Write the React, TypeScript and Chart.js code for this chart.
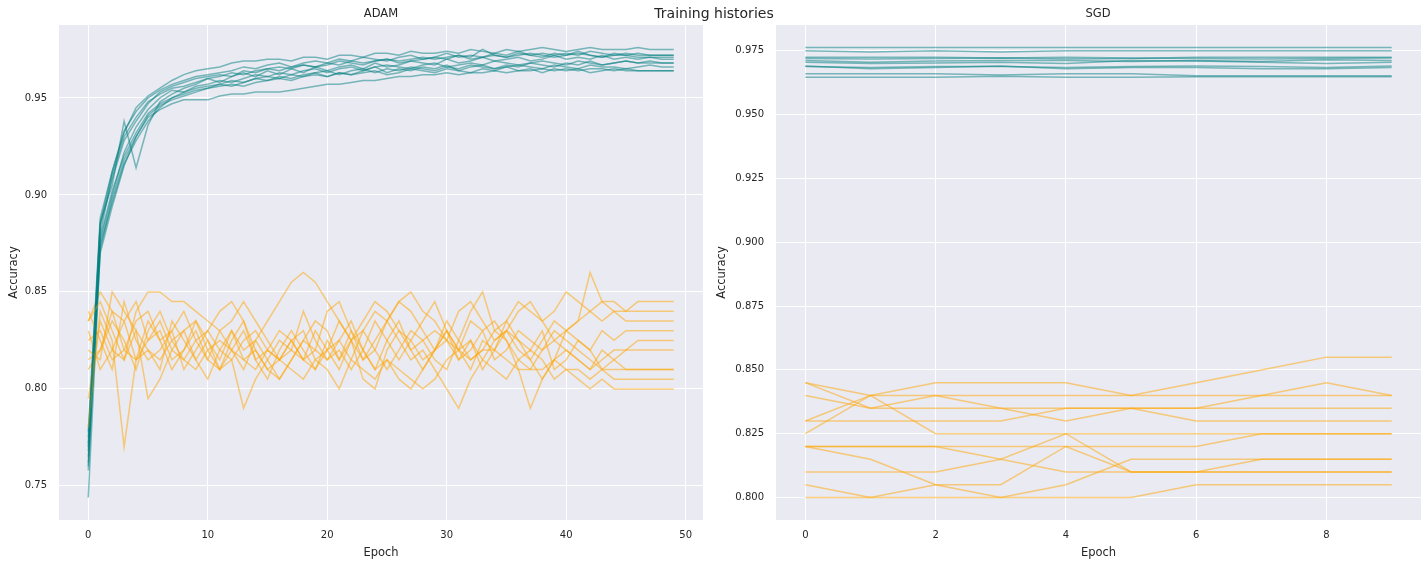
import React, { useEffect, useRef } from "react";
import { Chart, registerables } from "chart.js";
Chart.register(...registerables);

// ---------------- DATA ----------------
const ADAM_EPOCHS = Array.from({ length: 50 }, (_, i) => i);
const SGD_EPOCHS = Array.from({ length: 10 }, (_, i) => i);

const ADAM_X_TICKS = [0, 10, 20, 30, 40, 50];
const ADAM_Y_TICKS = [0.75, 0.8, 0.85, 0.9, 0.95];
const SGD_X_TICKS = [0, 2, 4, 6, 8];
const SGD_Y_TICKS = [0.8, 0.825, 0.85, 0.875, 0.9, 0.925, 0.95, 0.975];

// ADAM training accuracy (teal), 10 runs x 50 epochs
const adamTrain1 = [
  0.770, 0.885, 0.912, 0.932, 0.945, 0.951, 0.955, 0.959, 0.962, 0.964,
  0.965, 0.966, 0.968, 0.969, 0.969, 0.970, 0.970, 0.969, 0.971, 0.971,
  0.970, 0.972, 0.972, 0.971, 0.973, 0.973, 0.972, 0.974, 0.973, 0.973,
  0.974, 0.973, 0.975, 0.974, 0.973, 0.975, 0.974, 0.975, 0.976, 0.975,
  0.974, 0.975, 0.976, 0.975, 0.975, 0.975, 0.976, 0.975, 0.975, 0.975,
];
const adamTrain2 = [
  0.744, 0.872, 0.898, 0.918, 0.930, 0.940, 0.944, 0.947, 0.949, 0.949,
  0.949, 0.951, 0.952, 0.952, 0.953, 0.953, 0.953, 0.954, 0.955, 0.956,
  0.957, 0.957, 0.958, 0.959, 0.959, 0.960, 0.961, 0.961, 0.962, 0.962,
  0.963, 0.962, 0.963, 0.963, 0.964, 0.963, 0.964, 0.964, 0.965, 0.964,
  0.965, 0.964, 0.965, 0.965, 0.964, 0.965, 0.964, 0.964, 0.964, 0.964,
];
const adamTrain3 = [
  0.775, 0.886, 0.905, 0.938, 0.914, 0.936, 0.948, 0.952, 0.955, 0.957,
  0.960, 0.958, 0.961, 0.963, 0.961, 0.964, 0.962, 0.965, 0.963, 0.966,
  0.964, 0.966, 0.967, 0.965, 0.968, 0.966, 0.967, 0.969, 0.968, 0.967,
  0.970, 0.968, 0.969, 0.971, 0.969, 0.970, 0.971, 0.969, 0.970, 0.972,
  0.970, 0.971, 0.970, 0.972, 0.970, 0.971, 0.970, 0.971, 0.970, 0.970,
];
const adamTrain4 = [
  0.760, 0.880, 0.910, 0.930, 0.940, 0.948, 0.952, 0.955, 0.956, 0.958,
  0.960, 0.961, 0.963, 0.962, 0.964, 0.965, 0.964, 0.966, 0.967, 0.966,
  0.968, 0.967, 0.969, 0.968, 0.969, 0.970, 0.969, 0.970, 0.971, 0.970,
  0.971, 0.972, 0.970, 0.971, 0.972, 0.971, 0.972, 0.973, 0.972, 0.971,
  0.972, 0.973, 0.972, 0.971, 0.972, 0.972, 0.973, 0.972, 0.972, 0.972,
];
const adamTrain5 = [
  0.768, 0.876, 0.900, 0.922, 0.935, 0.944, 0.950, 0.954, 0.953, 0.956,
  0.957, 0.959, 0.958, 0.960, 0.962, 0.961, 0.963, 0.962, 0.964, 0.965,
  0.963, 0.965, 0.966, 0.964, 0.966, 0.967, 0.966, 0.965, 0.967, 0.968,
  0.966, 0.967, 0.968, 0.967, 0.969, 0.968, 0.967, 0.968, 0.969, 0.968,
  0.967, 0.969, 0.968, 0.967, 0.968, 0.969, 0.968, 0.968, 0.968, 0.968,
];
const adamTrain6 = [
  0.762, 0.878, 0.902, 0.920, 0.932, 0.942, 0.947, 0.950, 0.953, 0.955,
  0.956, 0.957, 0.959, 0.958, 0.960, 0.961, 0.960, 0.962, 0.961, 0.963,
  0.964, 0.962, 0.964, 0.965, 0.963, 0.965, 0.964, 0.966, 0.965, 0.964,
  0.966, 0.965, 0.967, 0.966, 0.965, 0.966, 0.967, 0.966, 0.965, 0.967,
  0.966, 0.965, 0.967, 0.966, 0.966, 0.965, 0.966, 0.967, 0.966, 0.966,
];
const adamTrain7 = [
  0.772, 0.884, 0.908, 0.928, 0.938, 0.947, 0.953, 0.956, 0.958, 0.960,
  0.961, 0.962, 0.961, 0.964, 0.963, 0.965, 0.966, 0.965, 0.967, 0.966,
  0.967, 0.969, 0.968, 0.967, 0.969, 0.970, 0.968, 0.969, 0.970, 0.971,
  0.970, 0.972, 0.971, 0.975, 0.972, 0.971, 0.973, 0.972, 0.971, 0.973,
  0.972, 0.974, 0.972, 0.971, 0.973, 0.972, 0.971, 0.971, 0.971, 0.971,
];
const adamTrain8 = [
  0.758, 0.874, 0.896, 0.916, 0.928, 0.938, 0.945, 0.950, 0.952, 0.954,
  0.955, 0.957, 0.956, 0.958, 0.960, 0.959, 0.961, 0.960, 0.962, 0.963,
  0.961, 0.963, 0.962, 0.964, 0.966, 0.963, 0.965, 0.964, 0.966, 0.965,
  0.967, 0.964, 0.966, 0.967, 0.965, 0.967, 0.966, 0.968, 0.967, 0.966,
  0.968, 0.967, 0.969, 0.967, 0.968, 0.969, 0.968, 0.969, 0.968, 0.968,
];
const adamTrain9 = [
  0.778, 0.888, 0.912, 0.933, 0.943, 0.950, 0.954, 0.957, 0.959, 0.961,
  0.962, 0.963, 0.964, 0.966, 0.965, 0.967, 0.968, 0.966, 0.968, 0.969,
  0.968, 0.970, 0.969, 0.971, 0.970, 0.969, 0.971, 0.972, 0.970, 0.971,
  0.973, 0.971, 0.972, 0.971, 0.973, 0.972, 0.974, 0.972, 0.973, 0.972,
  0.973, 0.972, 0.974, 0.973, 0.972, 0.973, 0.972, 0.972, 0.972, 0.972,
];
const adamTrain10 = [
  0.765, 0.870, 0.894, 0.915, 0.930, 0.941, 0.946, 0.949, 0.951, 0.953,
  0.955, 0.956, 0.957, 0.956, 0.958, 0.959, 0.960, 0.959, 0.961, 0.962,
  0.961, 0.963, 0.962, 0.963, 0.964, 0.962, 0.963, 0.965, 0.964, 0.963,
  0.965, 0.964, 0.963, 0.965, 0.964, 0.966, 0.964, 0.965, 0.963, 0.965,
  0.964, 0.965, 0.963, 0.964, 0.965, 0.964, 0.964, 0.964, 0.964, 0.964,
];

// ADAM validation accuracy (orange), 10 runs x 50 epochs
const adamVal1 = [
  0.835, 0.845, 0.830, 0.815, 0.840, 0.850, 0.850, 0.845, 0.845, 0.840,
  0.835, 0.830, 0.820, 0.810, 0.825, 0.835, 0.845, 0.855, 0.860, 0.855,
  0.845, 0.835, 0.825, 0.815, 0.820, 0.835, 0.845, 0.840, 0.830, 0.820,
  0.825, 0.840, 0.845, 0.835, 0.825, 0.830, 0.840, 0.845, 0.835, 0.825,
  0.830, 0.835, 0.840, 0.845, 0.845, 0.840, 0.845, 0.845, 0.845, 0.845,
];
const adamVal2 = [
  0.780, 0.840, 0.825, 0.770, 0.815, 0.825, 0.835, 0.820, 0.830, 0.815,
  0.825, 0.810, 0.820, 0.830, 0.815, 0.805, 0.820, 0.830, 0.820, 0.810,
  0.825, 0.815, 0.830, 0.820, 0.810, 0.825, 0.835, 0.820, 0.810, 0.820,
  0.830, 0.815, 0.825, 0.810, 0.820, 0.830, 0.825, 0.815, 0.825, 0.835,
  0.830, 0.825, 0.820, 0.830, 0.825, 0.830, 0.830, 0.830, 0.830, 0.830,
];
const adamVal3 = [
  0.795, 0.835, 0.820, 0.815, 0.830, 0.795, 0.805, 0.820, 0.815, 0.825,
  0.830, 0.820, 0.815, 0.790, 0.805, 0.815, 0.825, 0.820, 0.815, 0.830,
  0.820, 0.810, 0.825, 0.830, 0.840, 0.835, 0.825, 0.815, 0.820, 0.810,
  0.800, 0.790, 0.805, 0.815, 0.825, 0.830, 0.820, 0.815, 0.805, 0.815,
  0.820, 0.815, 0.810, 0.820, 0.815, 0.820, 0.825, 0.825, 0.825, 0.825,
];
const adamVal4 = [
  0.820, 0.815, 0.850, 0.840, 0.830, 0.820, 0.815, 0.825, 0.830, 0.835,
  0.825, 0.815, 0.830, 0.820, 0.825, 0.815, 0.805, 0.815, 0.825, 0.835,
  0.830, 0.815, 0.825, 0.835, 0.845, 0.840, 0.830, 0.820, 0.825, 0.815,
  0.810, 0.825, 0.840, 0.850, 0.830, 0.835, 0.845, 0.840, 0.835, 0.840,
  0.850, 0.845, 0.840, 0.835, 0.840, 0.840, 0.840, 0.840, 0.840, 0.840,
];
const adamVal5 = [
  0.840, 0.825, 0.810, 0.845, 0.825, 0.815, 0.820, 0.830, 0.810, 0.820,
  0.830, 0.840, 0.845, 0.835, 0.820, 0.810, 0.815, 0.825, 0.815, 0.820,
  0.840, 0.845, 0.830, 0.815, 0.825, 0.835, 0.845, 0.850, 0.840, 0.835,
  0.825, 0.815, 0.820, 0.830, 0.835, 0.825, 0.810, 0.790, 0.805, 0.815,
  0.830, 0.835, 0.860, 0.845, 0.840, 0.835, 0.835, 0.835, 0.835, 0.835,
];
const adamVal6 = [
  0.815, 0.820, 0.835, 0.825, 0.810, 0.830, 0.840, 0.825, 0.815, 0.810,
  0.820, 0.825, 0.820, 0.815, 0.810, 0.820, 0.815, 0.810, 0.805, 0.815,
  0.820, 0.825, 0.835, 0.820, 0.810, 0.815, 0.805, 0.800, 0.810, 0.820,
  0.830, 0.820, 0.815, 0.820, 0.830, 0.825, 0.815, 0.810, 0.820, 0.825,
  0.820, 0.815, 0.810, 0.815, 0.820, 0.820, 0.820, 0.820, 0.820, 0.820,
];
const adamVal7 = [
  0.830, 0.810, 0.820, 0.835, 0.845, 0.825, 0.830, 0.815, 0.820, 0.830,
  0.815, 0.810, 0.825, 0.835, 0.815, 0.820, 0.830, 0.825, 0.815, 0.810,
  0.820, 0.835, 0.825, 0.805, 0.800, 0.820, 0.830, 0.825, 0.815, 0.820,
  0.835, 0.825, 0.815, 0.820, 0.820, 0.815, 0.810, 0.810, 0.810, 0.815,
  0.810, 0.810, 0.805, 0.810, 0.810, 0.810, 0.810, 0.810, 0.810, 0.810,
];
const adamVal8 = [
  0.825, 0.830, 0.815, 0.820, 0.835, 0.840, 0.825, 0.810, 0.820, 0.835,
  0.820, 0.810, 0.815, 0.825, 0.830, 0.820, 0.815, 0.825, 0.830, 0.815,
  0.810, 0.800, 0.815, 0.830, 0.820, 0.810, 0.820, 0.830, 0.825, 0.830,
  0.825, 0.820, 0.835, 0.830, 0.815, 0.820, 0.830, 0.825, 0.820, 0.830,
  0.825, 0.820, 0.815, 0.810, 0.805, 0.805, 0.805, 0.805, 0.805, 0.805,
];
const adamVal9 = [
  0.810, 0.820, 0.840, 0.835, 0.815, 0.820, 0.810, 0.835, 0.825, 0.815,
  0.805, 0.820, 0.830, 0.815, 0.820, 0.810, 0.805, 0.815, 0.825, 0.820,
  0.815, 0.825, 0.815, 0.810, 0.805, 0.815, 0.810, 0.805, 0.800, 0.805,
  0.815, 0.820, 0.825, 0.815, 0.810, 0.805, 0.815, 0.820, 0.815, 0.805,
  0.810, 0.805, 0.800, 0.805, 0.800, 0.800, 0.800, 0.800, 0.800, 0.800,
];
const adamVal10 = [
  0.835, 0.850, 0.840, 0.820, 0.815, 0.835, 0.825, 0.830, 0.840, 0.825,
  0.815, 0.830, 0.835, 0.845, 0.835, 0.825, 0.815, 0.820, 0.840, 0.825,
  0.815, 0.820, 0.810, 0.820, 0.835, 0.825, 0.815, 0.825, 0.835, 0.845,
  0.830, 0.820, 0.810, 0.825, 0.820, 0.835, 0.825, 0.820, 0.830, 0.810,
  0.815, 0.825, 0.820, 0.810, 0.815, 0.810, 0.810, 0.810, 0.810, 0.810,
];

// SGD training accuracy (teal), 10 runs x 10 epochs
const sgdTrain1 = [0.9763, 0.9763, 0.9763, 0.9763, 0.9763, 0.9763, 0.9763, 0.9763, 0.9763, 0.9763];
const sgdTrain2 = [0.9750, 0.9745, 0.9750, 0.9745, 0.9750, 0.9750, 0.9750, 0.9750, 0.9750, 0.9750];
const sgdTrain3 = [0.9725, 0.9725, 0.9725, 0.9722, 0.9725, 0.9722, 0.9720, 0.9718, 0.9720, 0.9722];
const sgdTrain4 = [0.9720, 0.9718, 0.9720, 0.9722, 0.9718, 0.9720, 0.9725, 0.9725, 0.9725, 0.9725];
const sgdTrain5 = [0.9712, 0.9705, 0.9710, 0.9712, 0.9712, 0.9708, 0.9712, 0.9708, 0.9715, 0.9712];
const sgdTrain6 = [0.9705, 0.9700, 0.9702, 0.9705, 0.9700, 0.9712, 0.9710, 0.9705, 0.9700, 0.9705];
const sgdTrain7 = [0.9688, 0.9685, 0.9688, 0.9688, 0.9685, 0.9688, 0.9690, 0.9688, 0.9685, 0.9690];
const sgdTrain8 = [0.9690, 0.9680, 0.9685, 0.9690, 0.9680, 0.9685, 0.9685, 0.9680, 0.9680, 0.9685];
const sgdTrain9 = [0.9660, 0.9660, 0.9660, 0.9655, 0.9660, 0.9660, 0.9652, 0.9652, 0.9652, 0.9652];
const sgdTrain10 = [0.9646, 0.9646, 0.9646, 0.9650, 0.9646, 0.9646, 0.9648, 0.9648, 0.9648, 0.9648];

// SGD validation accuracy (orange), 12 runs x 10 epochs
const sgdVal1 = [0.845, 0.835, 0.840, 0.835, 0.830, 0.835, 0.830, 0.830, 0.830, 0.830];
const sgdVal2 = [0.845, 0.840, 0.825, 0.825, 0.825, 0.825, 0.825, 0.825, 0.825, 0.825];
const sgdVal3 = [0.840, 0.835, 0.835, 0.835, 0.835, 0.835, 0.835, 0.835, 0.835, 0.835];
const sgdVal4 = [0.830, 0.840, 0.845, 0.845, 0.845, 0.840, 0.845, 0.850, 0.855, 0.855];
const sgdVal5 = [0.825, 0.840, 0.840, 0.840, 0.840, 0.840, 0.840, 0.840, 0.840, 0.840];
const sgdVal6 = [0.830, 0.830, 0.830, 0.830, 0.835, 0.835, 0.835, 0.840, 0.845, 0.840];
const sgdVal7 = [0.820, 0.820, 0.820, 0.815, 0.825, 0.810, 0.810, 0.815, 0.815, 0.815];
const sgdVal8 = [0.820, 0.820, 0.820, 0.820, 0.820, 0.820, 0.820, 0.825, 0.825, 0.825];
const sgdVal9 = [0.820, 0.815, 0.805, 0.800, 0.805, 0.815, 0.815, 0.815, 0.815, 0.815];
const sgdVal10 = [0.810, 0.810, 0.810, 0.815, 0.810, 0.810, 0.810, 0.810, 0.810, 0.810];
const sgdVal11 = [0.805, 0.800, 0.805, 0.805, 0.820, 0.810, 0.810, 0.810, 0.810, 0.810];
const sgdVal12 = [0.800, 0.800, 0.800, 0.800, 0.800, 0.800, 0.805, 0.805, 0.805, 0.805];

const ADAM_TRAIN = [adamTrain1, adamTrain2, adamTrain3, adamTrain4, adamTrain5, adamTrain6, adamTrain7, adamTrain8, adamTrain9, adamTrain10];
const ADAM_VAL = [adamVal1, adamVal2, adamVal3, adamVal4, adamVal5, adamVal6, adamVal7, adamVal8, adamVal9, adamVal10];
const SGD_TRAIN = [sgdTrain1, sgdTrain2, sgdTrain3, sgdTrain4, sgdTrain5, sgdTrain6, sgdTrain7, sgdTrain8, sgdTrain9, sgdTrain10];
const SGD_VAL = [sgdVal1, sgdVal2, sgdVal3, sgdVal4, sgdVal5, sgdVal6, sgdVal7, sgdVal8, sgdVal9, sgdVal10, sgdVal11, sgdVal12];

// ---------------- STYLE ----------------
const FONT = "'DejaVu Sans', sans-serif";
const TEXT = "#262626";
const TEAL = "rgba(0,128,128,0.5)";
const ORANGE = "rgba(255,165,0,0.5)";
const BG = "#EAEAF2";

const bgPlugin = {
  id: "axbg",
  beforeDraw(chart: any) {
    const { ctx, chartArea } = chart;
    if (!chartArea) return;
    ctx.save();
    ctx.fillStyle = BG;
    ctx.fillRect(chartArea.left, chartArea.top, chartArea.right - chartArea.left, chartArea.bottom - chartArea.top);
    ctx.restore();
  },
};

function series(epochs: number[], vals: number[]) {
  return vals.map((y, i) => ({ x: epochs[i], y }));
}

function buildDatasets(epochs: number[], train: number[][], val: number[][]) {
  const ds: any[] = [];
  const n = Math.max(train.length, val.length);
  for (let i = 0; i < n; i++) {
    if (train[i]) ds.push({ data: series(epochs, train[i]), borderColor: TEAL, borderWidth: 1.5, pointRadius: 0, tension: 0, fill: false });
    if (val[i]) ds.push({ data: series(epochs, val[i]), borderColor: ORANGE, borderWidth: 1.5, pointRadius: 0, tension: 0, fill: false });
  }
  return ds;
}

type PanelProps = {
  epochs: number[];
  train: number[][];
  val: number[][];
  xTicks: number[];
  yTicks: number[];
  xMin: number;
  xMax: number;
  yMin: number;
  yMax: number;
  decimals: number;
  yAxisWidth: number;
  rightPad: number;
  yTitlePad: number;
  width: number;
};

function Panel(p: PanelProps) {
  const ref = useRef<HTMLCanvasElement>(null);
  useEffect(() => {
    if (!ref.current) return;
    const chart = new Chart(ref.current, {
      type: "line",
      data: { datasets: buildDatasets(p.epochs, p.train, p.val) },
      options: {
        animation: false,
        responsive: false,
        devicePixelRatio: 1,
        layout: { padding: { top: 25, right: p.rightPad, left: 0, bottom: 0 } },
        plugins: { legend: { display: false }, tooltip: { enabled: false }, title: { display: false } },
        scales: {
          x: {
            type: "linear",
            min: p.xMin,
            max: p.xMax,
            afterBuildTicks: (s: any) => { s.ticks = p.xTicks.map((v) => ({ value: v })); },
            afterFit: (s: any) => { s.height = 45; },
            ticks: { color: TEXT, font: { family: FONT, size: 10 }, padding: 9, maxRotation: 0, callback: (v: any) => String(v) },
            grid: { color: "#ffffff", lineWidth: 1, drawTicks: false },
            border: { display: false },
            title: { display: true, text: "Epoch", color: TEXT, font: { family: FONT, size: 11.5 }, padding: { top: 0, bottom: 5 } },
          },
          y: {
            type: "linear",
            min: p.yMin,
            max: p.yMax,
            afterBuildTicks: (s: any) => { s.ticks = p.yTicks.map((v) => ({ value: v })); },
            afterFit: (s: any) => { s.width = p.yAxisWidth; },
            ticks: { color: TEXT, font: { family: FONT, size: 10 }, padding: 12, callback: (v: any) => Number(v).toFixed(p.decimals) },
            grid: { color: "#ffffff", lineWidth: 1, drawTicks: false },
            border: { display: false },
            title: { display: true, text: "Accuracy", color: TEXT, font: { family: FONT, size: 11.5 }, padding: { top: p.yTitlePad, bottom: 0 } },
          },
        },
      } as any,
      plugins: [bgPlugin],
    });
    return () => chart.destroy();
  }, []);
  return <canvas ref={ref} width={p.width} height={565} style={{ width: p.width, height: 565, display: "block" }} />;
}

export default function App() {
  const titleStyle: React.CSSProperties = {
    position: "absolute",
    fontFamily: FONT,
    color: TEXT,
    whiteSpace: "nowrap",
    transform: "translate(-50%, -50%)",
    lineHeight: 1,
  };
  return (
    <div style={{ position: "fixed", left: 0, top: 0, width: 1428, height: 565, background: "#ffffff", overflow: "hidden" }}>
      <div style={{ position: "absolute", left: 0, top: 0 }}>
        <Panel
          epochs={ADAM_EPOCHS}
          train={ADAM_TRAIN}
          val={ADAM_VAL}
          xTicks={ADAM_X_TICKS}
          yTicks={ADAM_Y_TICKS}
          xMin={-2.45}
          xMax={51.45}
          yMin={0.7324}
          yMax={0.9876}
          decimals={2}
          yAxisWidth={59}
          rightPad={9}
          yTitlePad={7}
          width={712}
        />
      </div>
      <div style={{ position: "absolute", left: 712, top: 0 }}>
        <Panel
          epochs={SGD_EPOCHS}
          train={SGD_TRAIN}
          val={SGD_VAL}
          xTicks={SGD_X_TICKS}
          yTicks={SGD_Y_TICKS}
          xMin={-0.45}
          xMax={9.45}
          yMin={0.7912}
          yMax={0.9851}
          decimals={3}
          yAxisWidth={64}
          rightPad={7}
          yTitlePad={3}
          width={716}
        />
      </div>
      <div style={{ ...titleStyle, left: 381, top: 14, fontSize: 11.5 }}>ADAM</div>
      <div style={{ ...titleStyle, left: 1098, top: 14, fontSize: 11.5 }}>SGD</div>
      <div style={{ ...titleStyle, left: 714, top: 13, fontSize: 14 }}>Training histories</div>
    </div>
  );
}
